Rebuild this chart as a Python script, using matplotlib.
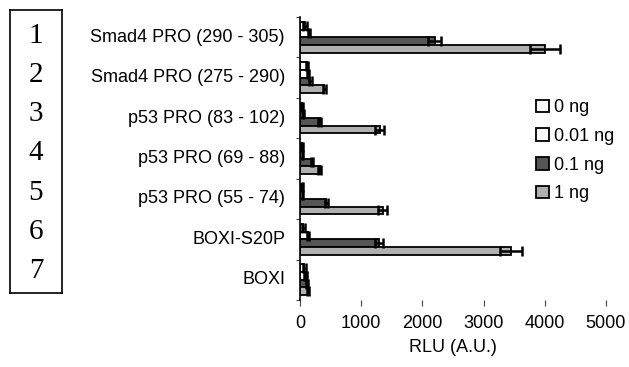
import numpy as np
import matplotlib.pyplot as plt

# constructs (top to bottom)
constructs = ["Smad4 PRO (290 - 305)", "Smad4 PRO (275 - 290)", "p53 PRO (83 - 102)",
              "p53 PRO (69 - 88)", "p53 PRO (55 - 74)", "BOXI-S20P", "BOXI"]
doses = ["0 ng", "0.01 ng", "0.1 ng", "1 ng"]

# RLU means per dose
rlu_0 = [80, 110, 40, 40, 40, 55, 70]
rlu_001 = [150, 130, 50, 45, 45, 130, 90]
rlu_01 = [2200, 170, 320, 200, 430, 1290, 110]
rlu_1 = [4000, 400, 1300, 320, 1350, 3450, 130]

# error values
err_0 = [30, 20, 10, 10, 10, 20, 20]
err_001 = [20, 20, 10, 10, 10, 20, 20]
err_01 = [110, 20, 20, 20, 20, 70, 20]
err_1 = [250, 20, 70, 20, 70, 180, 20]

colors = ["white", "white", "#555555", "#b0b0b0"]
font = "Liberation Sans"

fig = plt.figure(figsize=(6.29, 3.67), dpi=100)
ax = fig.add_axes([300/629, 1-300/367, 306/629, 283/367])

n = len(constructs)
y = np.arange(n)
h = 0.19
offs = np.array([-1.5, -0.5, 0.5, 1.5]) * h
series = [rlu_0, rlu_001, rlu_01, rlu_1]
errs = [err_0, err_001, err_01, err_1]
for k in range(4):
    ax.barh(y + offs[k], series[k], height=h, color=colors[k], edgecolor="black",
            linewidth=1.3, label=doses[k], zorder=2)
    ax.errorbar(series[k], y + offs[k], xerr=errs[k], fmt="none", ecolor="black",
                elinewidth=1.8, capsize=3.5, capthick=1.8, zorder=3)

ax.set_xlim(0, 5000)
ax.set_ylim(n - 0.5, -0.5)
ax.set_xticks([0, 1000, 2000, 3000, 4000, 5000])
ax.set_xticklabels(["0", "1000", "2000", "3000", "4000", "5000"], fontsize=13,
                   family=font)
ax.tick_params(axis="x", length=4, pad=7, color="#444444")
ax.set_yticks(np.arange(n + 1) - 0.5)
ax.set_yticklabels([])
ax.tick_params(axis="y", length=3, direction="out", color="#444444")
for i, c in enumerate(constructs):
    ax.text(-15/306*5000, i, c, ha="right", va="center", fontsize=13, family=font)
ax.set_xlabel("RLU (A.U.)", fontsize=13, family=font, labelpad=5)
for s in ["top", "right", "bottom"]:
    ax.spines[s].set_visible(False)
ax.spines["left"].set_linewidth(1.2)

fig.legend(loc="upper left", bbox_to_anchor=(520/629, 1-83/367), frameon=False,
           prop={"family": font, "size": 13},
           handlelength=0.7, handleheight=0.7, handletextpad=0.3,
           labelspacing=0.65)

# numbered box on the left
box = fig.add_axes([10/629, 1-293/367, 52/629, 283/367])
box.set_xticks([])
box.set_yticks([])
for s in box.spines.values():
    s.set_linewidth(1.2)
box.set_xlim(0, 1)
box.set_ylim(7.55, 0.35)
for i in range(7):
    box.text(0.5, i + 1, str(i + 1), ha="center", va="center", fontsize=21,
             family="Liberation Serif")

fig.savefig("out.png", dpi=100)
